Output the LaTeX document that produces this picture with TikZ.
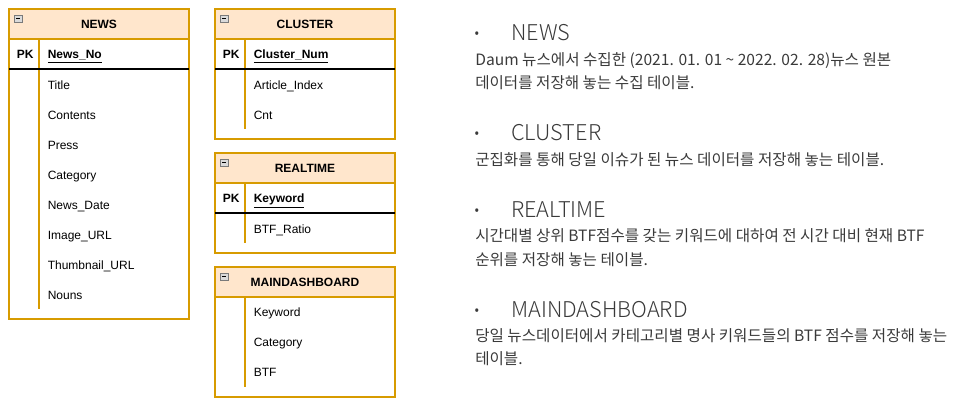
\documentclass[tikz,border=0pt]{standalone}
\usepackage{fontspec}
\setmainfont{Liberation Sans}
\newfontfamily\krfont{Noto Sans CJK KR}
\newfontfamily\krlight{Noto Sans CJK KR Light}
\definecolor{tblstroke}{HTML}{D79B00}
\definecolor{tblfill}{HTML}{FFE6CC}
\definecolor{txtgray}{HTML}{3A3A3A}
\definecolor{iconfill}{HTML}{DADADA}
\definecolor{iconline}{HTML}{7A7A7A}
\tikzset{
  tb/.style={draw=tblstroke, line width=0.8pt},
  hdrbox/.style={fill=tblfill},
  keyline/.style={draw=black, line width=0.8pt},
  iconbox/.style={fill=iconfill, draw=iconline, line width=0.6pt},
  hd/.style={font=\fontsize{9}{11}\selectfont\bfseries, inner sep=0pt, anchor=base},
  fld/.style={font=\fontsize{9}{11}\selectfont, inner sep=0pt, anchor=base west},
  pkfld/.style={font=\fontsize{9}{11}\selectfont\bfseries, inner sep=0pt, anchor=base west},
  rhead/.style={font=\krlight\fontsize{16.3}{19}\selectfont, text=txtgray, inner sep=0pt, anchor=base west},
  rbody/.style={font=\krfont\fontsize{11.7}{14}\selectfont, text=txtgray, inner sep=0pt, anchor=base west},
  bul/.style={font=\krfont\fontsize{10}{12}\selectfont, text=txtgray, inner sep=0pt, anchor=base},
}
\newcommand{\tblicon}[2]{%
  \filldraw[iconbox] (#1,#2) rectangle ++(8,7);
  \draw[black, line width=0.6pt] (#1+2,#2+3.5) -- ++(4,0);}
\begin{document}
\begin{tikzpicture}[x=0.75pt,y=-0.75pt]
\useasboundingbox (0,0) rectangle (958,408);
% ---------- NEWS ----------
\fill[hdrbox] (9,9) rectangle (189,39);
\draw[tb] (9,9) rectangle (189,319);
\draw[tb] (9,39) -- (189,39);
\draw[tb] (39,39) -- (39,309);
\draw[keyline] (9,69) -- (189,69);
\tblicon{14}{15}
\node[hd] (newsT) at (99,28.5) {NEWS};
\node[pkfld] (newsPK) at (16.5,58.5) {PK};
\node[pkfld] (newsK) at (47.5,58.5) {\underline{News\_No}};
\node[fld] (newsF1) at (47.5,89) {Title};
\node[fld] (newsF2) at (47.5,119) {Contents};
\node[fld] (newsF3) at (47.5,149) {Press};
\node[fld] (newsF4) at (47.5,179) {Category};
\node[fld] (newsF5) at (47.5,209) {News\_Date};
\node[fld] (newsF6) at (47.5,239) {Image\_URL};
\node[fld] (newsF7) at (47.5,269) {Thumbnail\_URL};
\node[fld] (newsF8) at (47.5,299) {Nouns};
% ---------- CLUSTER ----------
\fill[hdrbox] (215,9) rectangle (395,39);
\draw[tb] (215,9) rectangle (395,139);
\draw[tb] (215,39) -- (395,39);
\draw[tb] (245,39) -- (245,129);
\draw[keyline] (215,69) -- (395,69);
\tblicon{220}{15}
\node[hd] (clT) at (305,28.5) {CLUSTER};
\node[pkfld] (clPK) at (222.5,58.5) {PK};
\node[pkfld] (clK) at (253.5,58.5) {\underline{Cluster\_Num}};
\node[fld] (clF1) at (253.5,89) {Article\_Index};
\node[fld] (clF2) at (253.5,119) {Cnt};
% ---------- REALTIME ----------
\fill[hdrbox] (215,153) rectangle (395,183);
\draw[tb] (215,153) rectangle (395,253);
\draw[tb] (215,183) -- (395,183);
\draw[tb] (245,183) -- (245,243);
\draw[keyline] (215,213) -- (395,213);
\tblicon{220}{159}
\node[hd] (rtT) at (305,172.5) {REALTIME};
\node[pkfld] (rtPK) at (222.5,202.5) {PK};
\node[pkfld] (rtK) at (253.5,202.5) {\underline{Keyword}};
\node[fld] (rtF1) at (253.5,233) {BTF\_Ratio};
% ---------- MAINDASHBOARD ----------
\fill[hdrbox] (215,267) rectangle (395,297);
\draw[tb] (215,267) rectangle (395,397);
\draw[tb] (215,297) -- (395,297);
\draw[tb] (245,297) -- (245,387);
\tblicon{220}{273}
\node[hd] (mdT) at (305,286.5) {MAINDASHBOARD};
\node[fld] (mdF1) at (253.5,316.5) {Keyword};
\node[fld] (mdF2) at (253.5,346.5) {Category};
\node[fld] (mdF3) at (253.5,376.5) {BTF};
% ---------- right descriptions ----------
\node[bul] (b1) at (477,37) {•};
\node[rhead] (h1) at (511,40.5) {NEWS};
\node[rbody] (t1a) at (475,65) {Daum 뉴스에서 수집한 (2021. 01. 01 \textasciitilde{} 2022. 02. 28)뉴스 원본};
\node[rbody] (t1b) at (475,88) {데이터를 저장해 놓는 수집 테이블.};
\node[bul] (b2) at (477,137) {•};
\node[rhead] (h2) at (511,140.5) {CLUSTER};
\node[rbody] (t2a) at (475,165) {군집화를 통해 당일 이슈가 된 뉴스 데이터를 저장해 놓는 테이블.};
\node[bul] (b3) at (477,214) {•};
\node[rhead] (h3) at (511,217.5) {REALTIME};
\node[rbody] (t3a) at (475,241.5) {시간대별 상위 BTF점수를 갖는 키워드에 대하여 전 시간 대비 현재 BTF};
\node[rbody] (t3b) at (475,265) {순위를 저장해 놓는 테이블.};
\node[bul] (b4) at (477,314) {•};
\node[rhead] (h4) at (511,317.5) {MAINDASHBOARD};
\node[rbody] (t4a) at (475,341.5) {당일 뉴스데이터에서 카테고리별 명사 키워드들의 BTF 점수를 저장해 놓는};
\node[rbody] (t4b) at (475,364.5) {테이블.};
\end{tikzpicture}
\end{document}
